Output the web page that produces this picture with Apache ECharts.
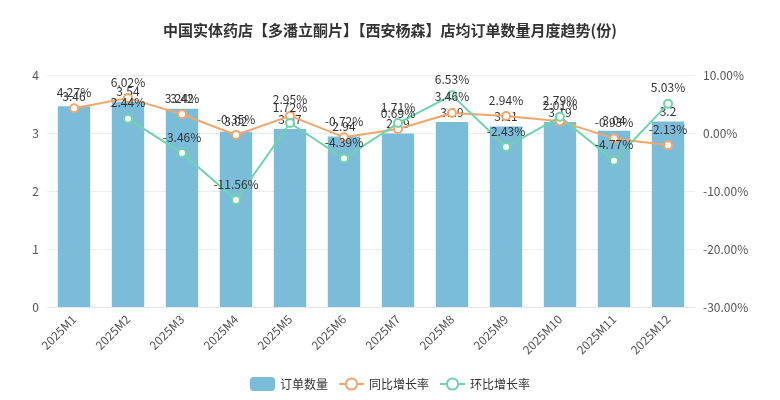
<!DOCTYPE html>
<html>
<head>
<meta charset="utf-8">
<script src="https://cdn.jsdelivr.net/npm/echarts@6/dist/echarts.min.js"></script>
<style>
  html, body { margin: 0; padding: 0; background: #fff; }
  #main { width: 780px; height: 400px; }
</style>
</head>
<body>
<div id="main"></div>
<script>
let months = ['2025M1','2025M2','2025M3','2025M4','2025M5','2025M6','2025M7','2025M8','2025M9','2025M10','2025M11','2025M12'];
let orders = [3.46, 3.54, 3.42, 3.02, 3.07, 2.94, 2.99, 3.19, 3.11, 3.19, 3.04, 3.2];
let yoy = [4.27, 6.02, 3.24, -0.35, 2.95, -0.72, 0.69, 3.46, 2.94, 2.01, -0.93, -2.13];
let mom = [null, 2.44, -3.46, -11.56, 1.72, -4.39, 1.71, 6.53, -2.43, 2.79, -4.77, 5.03];

let myChart = echarts.init(document.getElementById('main'));

let font = 'Microsoft YaHei, "Noto Sans CJK SC", sans-serif';

myChart.setOption({
    textStyle:{ fontFamily: font },
    title:{
        text:'中国实体药店【多潘立酮片】【西安杨森】店均订单数量月度趋势(份)',
        left:'center',
        top:18,
        textStyle:{ fontSize:15, fontWeight:'bold', color:'#333', fontFamily: font }
    },
    legend:{
        bottom:4,
        itemWidth:25,
        itemHeight:14,
        itemGap:10,
        textStyle:{ color:'#333', fontSize:12 },
        data:[
            {name:'订单数量', icon:'roundRect'},
            {name:'同比增长率'},
            {name:'环比增长率'}
        ]
    },
    grid:{ left:47, right:85, top:75, bottom:93 },
    xAxis:{
        type:'category',
        data:months,
        axisTick:{ show:false },
        axisLine:{ lineStyle:{ color:'#e6e6e6' } },
        axisLabel:{ rotate:45, color:'#555', fontSize:12, interval:0, margin:10 }
    },
    yAxis:[
        {
            type:'value', min:0, max:4, interval:1,
            axisLine:{ show:false }, axisTick:{ show:false },
            axisLabel:{ color:'#555', fontSize:12, margin:8 },
            splitLine:{ lineStyle:{ color:'#eeeeee' } }
        },
        {
            type:'value', min:-30, max:10, interval:10,
            axisLine:{ show:false }, axisTick:{ show:false },
            axisLabel:{ color:'#555', fontSize:12, formatter: v => v.toFixed(2) + '%' },
            splitLine:{ show:false }
        }
    ],
    series:[
        {
            name:'订单数量',
            type:'bar',
            data:orders,
            barWidth:'60%',
            itemStyle:{ color:'#7bbdd9' },
            label:{ show:true, position:'top', color:'#333', fontSize:12, distance:4 }
        },
        {
            name:'同比增长率',
            type:'line',
            yAxisIndex:1,
            data:yoy,
            symbol:'emptyCircle',
            symbolSize:8,
            lineStyle:{ width:2, color:'#f2a66e' },
            itemStyle:{ color:'#f2a66e', borderWidth:2 },
            label:{ show:true, position:'top', color:'#333', fontSize:12, formatter: p => p.value.toFixed(2) + '%' }
        },
        {
            name:'环比增长率',
            type:'line',
            yAxisIndex:1,
            data:mom,
            symbol:'emptyCircle',
            symbolSize:8,
            lineStyle:{ width:2, color:'#6fd3aa' },
            itemStyle:{ color:'#6fd3aa', borderWidth:2 },
            label:{ show:true, position:'top', color:'#333', fontSize:12, formatter: p => p.value.toFixed(2) + '%' }
        }
    ]
});
</script>
</body>
</html>
